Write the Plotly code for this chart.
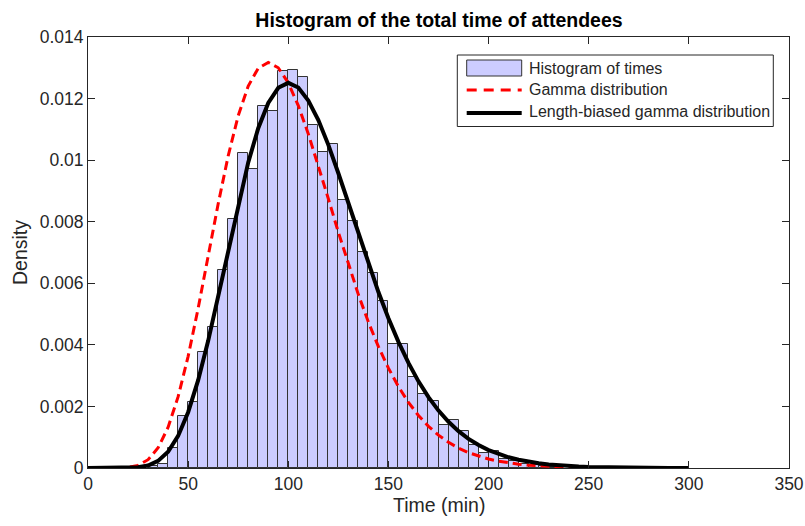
import plotly.graph_objects as go

# ---------------- data ----------------
bin_left = [30, 35, 40, 45, 50, 55, 60, 65, 70, 75, 80, 85, 90, 95, 100, 105, 110,
            115, 120, 125, 130, 135, 140, 145, 150, 155, 160, 165, 170, 175, 180,
            185, 190, 195, 200, 205, 210, 215, 220, 225, 230]
bin_width = 5
hist_density = [0.00005, 0.00013, 0.00065, 0.00169, 0.00213, 0.00378, 0.00457,
                0.00643, 0.00810, 0.01022, 0.00970, 0.01177, 0.01160, 0.01288,
                0.01293, 0.01271, 0.01115, 0.01028, 0.01054, 0.00871, 0.00803,
                0.00703, 0.00633, 0.00541, 0.00402, 0.00402, 0.00296, 0.00240,
                0.00217, 0.00140, 0.00157, 0.00121, 0.00076, 0.00048, 0.00056,
                0.00028, 0.00023, 0.00014, 0.00010, 0.00006, 0.00003]

curve_x = [0, 5, 10, 15, 20, 25, 30, 35, 40, 45, 50, 55, 60, 65, 70, 75, 80, 85,
           90, 95, 100, 105, 110, 115, 120, 125, 130, 135, 140, 145, 150, 155,
           160, 165, 170, 175, 180, 185, 190, 195, 200, 205, 210, 215, 220, 225,
           230, 235, 240, 245, 250, 260, 270, 280, 290, 300]
gamma_pdf = [0, 0, 0.0000001, 0.0000024, 0.000019, 0.000086, 0.00027, 0.000656,
             0.001323, 0.002317, 0.003627, 0.005187, 0.006884, 0.008581, 0.01014,
             0.011444, 0.012408, 0.012987, 0.013176, 0.013, 0.012511, 0.011772,
             0.010853, 0.009829, 0.008748, 0.007659, 0.006612, 0.005632, 0.004738,
             0.003941, 0.003244, 0.002643, 0.002133, 0.001706, 0.001354, 0.001066,
             0.000833, 0.000647, 0.000498, 0.000382, 0.000291, 0.00022, 0.000166,
             0.000124, 0.0000928, 0.0000689, 0.0000509, 0.0000375, 0.0000275,
             0.00002, 0.0000146, 0.0000076, 0.0000039, 0.000002, 0.000001,
             0.0000005]
lb_gamma_pdf = [0, 0, 0.00000001, 0.00000035, 0.0000038, 0.0000216, 0.000081,
                0.00023, 0.000529, 0.001042, 0.001813, 0.002853, 0.00413, 0.005578,
                0.007098, 0.008583, 0.009926, 0.011039, 0.011858, 0.01235, 0.012511,
                0.01236, 0.011938, 0.011303, 0.010497, 0.009574, 0.008596, 0.007603,
                0.006633, 0.005714, 0.004866, 0.004097, 0.003412, 0.002815, 0.002302,
                0.001865, 0.0015, 0.001197, 0.000947, 0.000745, 0.000582, 0.000451,
                0.000348, 0.000268, 0.000204, 0.000155, 0.000117, 0.000088, 0.000066,
                0.000049, 0.0000365, 0.00002, 0.000011, 0.0000056, 0.000003,
                0.0000015]

x_ticks = [0, 50, 100, 150, 200, 250, 300, 350]
y_ticks = [0, 0.002, 0.004, 0.006, 0.008, 0.01, 0.012, 0.014]
y_tick_text = ["0", "0.002", "0.004", "0.006", "0.008", "0.01", "0.012", "0.014"]

legend_labels = ["Histogram of times", "Gamma distribution",
                 "Length-biased gamma distribution"]

# ---------------- figure ----------------
W, H = 805, 526
L, R, T, B = 88, 16, 37, 58
PW, PH = W - L - R, H - T - B


def px(xpix):
    return (xpix - L) / PW


def py(ypix):
    return (H - B - ypix) / PH


TXT = "#262626"
FONT = "Liberation Sans, Arial, Helvetica, sans-serif"

bin_centers = [b + bin_width / 2 for b in bin_left]

fig = go.Figure()
fig.add_trace(go.Bar(
    x=bin_centers, y=hist_density, width=bin_width,
    marker=dict(color="#ccccff", line=dict(color="#333333", width=1)),
    name=legend_labels[0], showlegend=False))
fig.add_trace(go.Scatter(
    x=curve_x, y=gamma_pdf, mode="lines",
    line=dict(color="#ff0000", width=3, dash="9px,5px"),
    name=legend_labels[1], showlegend=False))
fig.add_trace(go.Scatter(
    x=curve_x, y=lb_gamma_pdf, mode="lines",
    line=dict(color="#000000", width=4),
    name=legend_labels[2], showlegend=False))

axis_common = dict(
    showgrid=False, zeroline=False, showline=True, linecolor=TXT, linewidth=1,
    mirror="allticks", ticks="inside", ticklen=7, tickcolor=TXT, tickwidth=1,
    tickfont=dict(family=FONT, size=17.5, color=TXT), automargin=False,
)

fig.update_xaxes(range=[0, 350], tickvals=x_ticks, **axis_common)
fig.update_yaxes(range=[0, 0.014], tickvals=y_ticks, ticktext=y_tick_text,
                 title=dict(text="Density", font=dict(family=FONT, size=19.5, color=TXT),
                            standoff=6),
                 **axis_common)

# ---- legend drawn as shapes + text ----
shapes = [
    dict(type="rect", xref="paper", yref="paper", x0=px(457.3), x1=px(773.3),
         y0=py(126.5), y1=py(55), line=dict(color=TXT, width=1), fillcolor="white"),
    dict(type="rect", xref="paper", yref="paper", x0=px(466.7), x1=px(521.7),
         y0=py(76), y1=py(60), line=dict(color="#333333", width=1),
         fillcolor="#ccccff"),
    dict(type="line", xref="paper", yref="paper", x0=px(466.7), x1=px(521.7),
         y0=py(90), y1=py(90), line=dict(color="#ff0000", width=3, dash="10px,7px")),
    dict(type="line", xref="paper", yref="paper", x0=px(466.7), x1=px(521.7),
         y0=py(113), y1=py(113), line=dict(color="#000000", width=4)),
]
annotations = []
for lab, ycen in zip(legend_labels, [68.5, 89.5, 111.5]):
    annotations.append(dict(
        text=lab, xref="paper", yref="paper", x=px(526.5), y=py(ycen),
        xanchor="left", yanchor="middle", showarrow=False,
        font=dict(family=FONT, size=16, color=TXT)))
# x-axis title
annotations.append(dict(
    text="Time (min)", xref="paper", yref="paper", x=px(438.5), y=py(505),
    xanchor="center", yanchor="middle", showarrow=False,
    font=dict(family=FONT, size=19.5, color=TXT)))

fig.update_layout(
    width=W, height=H,
    margin=dict(l=L, r=R, t=T, b=B, autoexpand=False),
    paper_bgcolor="white", plot_bgcolor="white",
    title=dict(text="<b>Histogram of the total time of attendees</b>",
               x=px(439), xanchor="center", xref="paper",
               y=1 - 20 / H, yref="container", yanchor="middle",
               font=dict(family=FONT, size=19.5, color="#000000")),
    shapes=shapes, annotations=annotations,
    bargap=0, showlegend=False,
)

fig.write_html("out.html")
